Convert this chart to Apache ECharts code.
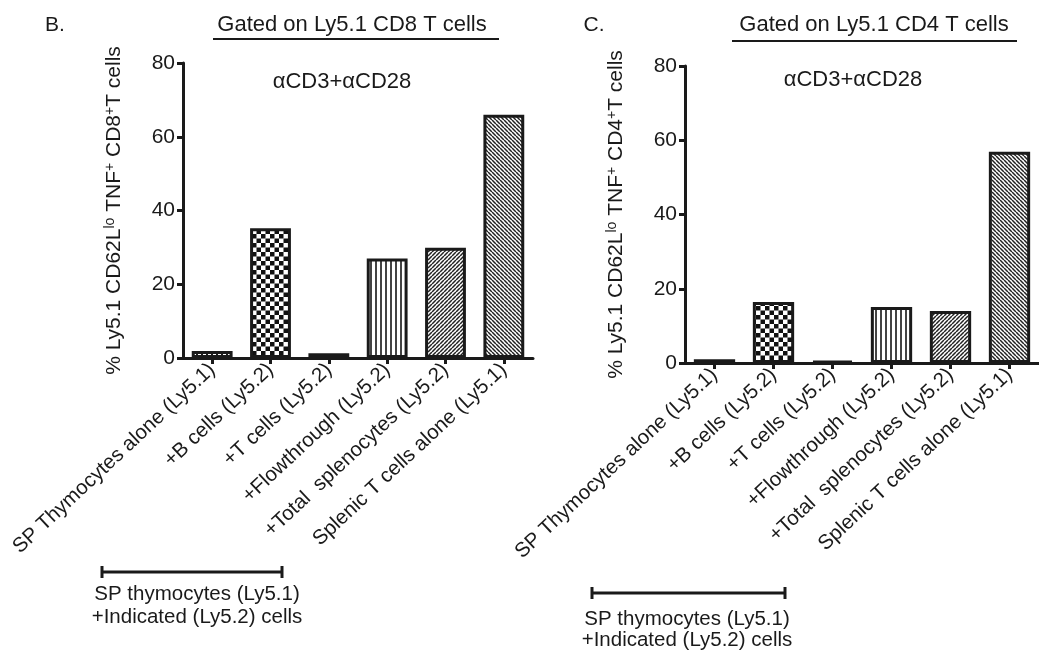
<!DOCTYPE html>
<html><head><meta charset="utf-8">
<script src="https://cdn.jsdelivr.net/npm/echarts@6/dist/echarts.min.js"></script>
<style>html,body{margin:0;padding:0;background:#fff}#c{width:1039px;height:652px}</style>
</head><body><div id="c"></div>
<script>
const categories = ['SP Thymocytes alone (Ly5.1)', '+B cells (Ly5.2)', '+T cells (Ly5.2)', '+Flowthrough (Ly5.2)', '+Total  splenocytes (Ly5.2)', 'Splenic T cells alone (Ly5.1)'];
const cd8Values = [1.9, 35.2, 1.3, 27.0, 29.9, 66.0];
const cd4Values = [1.0, 16.4, 0.6, 15.1, 14.0, 56.9];
const yMin = 0, yMax = 80, yInterval = 20;

const FONT = 'Liberation Sans, Arial, sans-serif';
const INK = '#1a1a1a';

function tile(w, h, draw) {
  const c = document.createElement('canvas');
  c.width = w; c.height = h;
  const ctx = c.getContext('2d');
  ctx.fillStyle = '#fff'; ctx.fillRect(0, 0, w, h);
  draw(ctx, w, h);
  return { image: c, repeat: 'repeat' };
}
const patterns = [
  tile(5, 4, (ctx) => { ctx.fillStyle = '#222'; ctx.fillRect(1, 1, 2, 2); }),
  tile(9, 9, (ctx) => { ctx.fillStyle = '#111'; ctx.fillRect(0, 0, 4.5, 4.5); ctx.fillRect(4.5, 4.5, 4.5, 4.5); }),
  tile(4, 4, (ctx) => { ctx.fillStyle = '#7a7a7a'; ctx.fillRect(0, 0, 4, 4); }),
  tile(5, 4, (ctx) => { ctx.fillStyle = '#444'; ctx.fillRect(0, 0, 2, 4); }),
  tile(4, 4, (ctx, w) => { ctx.strokeStyle = '#222'; ctx.lineWidth = 1.5; ctx.beginPath();
    for (const k of [-w, 0, w]) { ctx.moveTo(k, w); ctx.lineTo(k + w, 0); } ctx.stroke(); }),
  tile(4, 4, (ctx, w) => { ctx.strokeStyle = '#222'; ctx.lineWidth = 1.5; ctx.beginPath();
    for (const k of [-w, 0, w]) { ctx.moveTo(k, 0); ctx.lineTo(k + w, w); } ctx.stroke(); })
];

function yAxis(gridIndex, name, gap) {
  return {
    type: 'value', gridIndex, min: yMin, max: yMax, interval: yInterval,
    name, nameLocation: 'middle', nameGap: gap, nameRotate: 90,
    nameTextStyle: { fontFamily: FONT, fontSize: 21, color: INK,
      rich: { sup: { fontFamily: FONT, fontSize: 14, color: INK, verticalAlign: 'top', padding: [0, 0, 9, 0] } } },
    axisLine: { show: true, lineStyle: { color: INK, width: 3 } },
    axisTick: { show: true, length: 6, lineStyle: { color: INK, width: 3 } },
    axisLabel: { fontFamily: FONT, fontSize: 21, color: INK, margin: 8 },
    splitLine: { show: false }
  };
}
function xAxis(gridIndex) {
  return {
    type: 'category', gridIndex, data: categories,
    axisLine: { show: true, lineStyle: { color: INK, width: 3 } },
    axisTick: { show: true, alignWithLabel: true, length: 6, lineStyle: { color: INK, width: 3 } },
    axisLabel: { interval: 0, rotate: 43, fontFamily: FONT, fontSize: 20.5, color: INK, margin: 9 }
  };
}
function barData(vals) {
  return vals.map((v, i) => ({ value: v, itemStyle: { color: patterns[i] } }));
}
function txt(x, y, s, size, align) {
  return { type: 'text', x, y, style: { text: s, fontFamily: FONT, fontSize: size || 21, fill: INK, align: align || 'center', verticalAlign: 'middle' } };
}
function line(x1, y1, x2, y2, w) {
  return { type: 'line', shape: { x1, y1, x2, y2 }, style: { stroke: INK, lineWidth: w || 2 } };
}
function bracket(x1, x2, y) {
  return [line(x1, y, x2, y, 3), line(x1, y - 6, x1, y + 6, 3), line(x2, y - 6, x2, y + 6, 3)];
}

const chart = echarts.init(document.getElementById('c'), null, { renderer: 'canvas' });
chart.setOption({
  animation: false,
  backgroundColor: '#fff',
  grid: [
    { left: 183, top: 63, width: 350, height: 295 },
    { left: 685, top: 66, width: 362, height: 297 }
  ],
  xAxis: [xAxis(0), xAxis(1)],
  yAxis: [
    yAxis(0, '% Ly5.1 CD62L{sup|lo} TNF{sup|+} CD8{sup|+}T cells', 57),
    yAxis(1, '% Ly5.1 CD62L{sup|lo} TNF{sup|+} CD4{sup|+}T cells', 57)
  ],
  series: [
    { type: 'bar', xAxisIndex: 0, yAxisIndex: 0, data: barData(cd8Values), barCategoryGap: '30%',
      itemStyle: { borderColor: INK, borderWidth: 3 } },
    { type: 'bar', xAxisIndex: 1, yAxisIndex: 1, data: barData(cd4Values), barCategoryGap: '30%',
      itemStyle: { borderColor: INK, borderWidth: 3 } }
  ],
  graphic: [
    txt(55, 25, 'B.', 21),
    txt(352, 25, 'Gated on Ly5.1 CD8 T cells', 22),
    line(213, 39, 499, 39, 2),
    txt(342, 82, 'αCD3+αCD28', 22),
    txt(594, 25, 'C.', 21),
    txt(874, 25, 'Gated on Ly5.1 CD4 T cells', 22),
    line(732, 41, 1017, 41, 2),
    txt(853, 80, 'αCD3+αCD28', 22),
    ...bracket(102, 282, 572),
    txt(197, 594, 'SP thymocytes (Ly5.1)', 20.5),
    txt(197, 617, '+Indicated (Ly5.2) cells', 20.5),
    ...bracket(592, 785, 593),
    txt(687, 619, 'SP thymocytes (Ly5.1)', 20.5),
    txt(687, 640, '+Indicated (Ly5.2) cells', 20.5)
  ]
});
</script>
</body></html>
